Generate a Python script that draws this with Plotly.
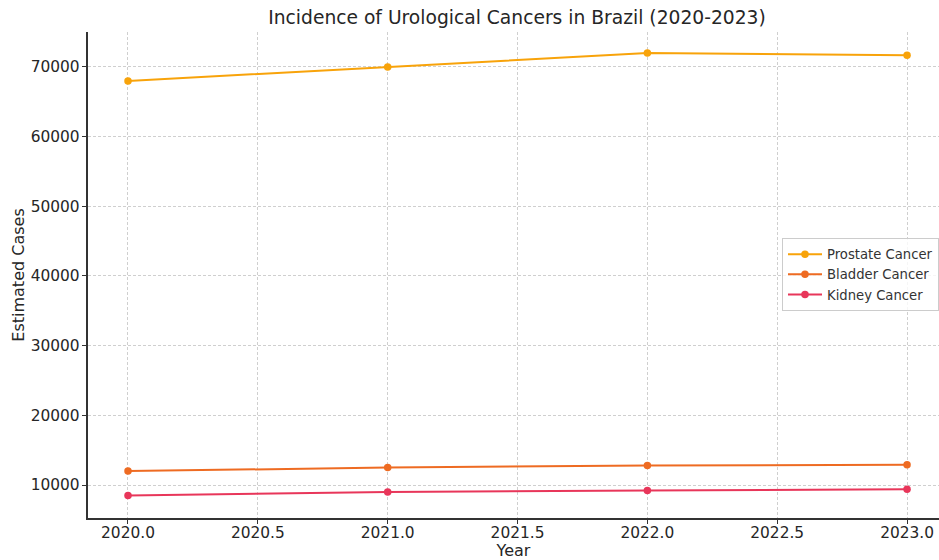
import plotly.graph_objects as go

years = [2020, 2021, 2022, 2023]
prostate = [68000, 70000, 72000, 71700]
bladder = [12000, 12500, 12800, 12900]
kidney = [8500, 9000, 9200, 9400]
series_names = ["Prostate Cancer", "Bladder Cancer", "Kidney Cancer"]
colors = ["#F8A30A", "#EE6B22", "#E8365A"]
x_ticks = [2020.0, 2020.5, 2021.0, 2021.5, 2022.0, 2022.5, 2023.0]
y_ticks = [10000, 20000, 30000, 40000, 50000, 60000, 70000]

fig = go.Figure()
for name, vals, c in zip(series_names, [prostate, bladder, kidney], colors):
    fig.add_trace(go.Scatter(x=years, y=vals, name=name, mode="lines+markers",
                             line=dict(color=c, width=2), marker=dict(color=c, size=7.5)))

font = "DejaVu Sans"
fig.update_layout(
    width=939, height=560,
    margin=dict(l=88, r=0, t=32, b=42),
    paper_bgcolor="white", plot_bgcolor="white",
    font=dict(family=font, color="#262626"),
    title=dict(text="Incidence of Urological Cancers in Brazil (2020-2023)",
               x=517/939, xanchor="center", y=1-17/560, yanchor="middle",
               font=dict(size=18.7, family=font, color="#262626")),
    legend=dict(x=0.8155, y=0.576, xanchor="left", yanchor="top",
                bordercolor="#cccccc", borderwidth=1, bgcolor="rgba(255,255,255,0.8)",
                font=dict(size=13.2, family=font, color="#333333"), tracegroupgap=0, itemwidth=34),
    showlegend=True,
)
common = dict(showgrid=True, gridcolor="#cfcfcf", griddash="3px,2px", gridwidth=0.8,
              showline=True, linecolor="#333333", linewidth=1.5,
              ticks="outside", ticklen=4.5, tickcolor="#333333", tickwidth=1.2,
              tickfont=dict(size=15.4, family=font, color="#262626"), zeroline=False)
fig.update_xaxes(range=[2019.846, 2023.123], tickvals=x_ticks,
                 ticktext=[f"{v:.1f}" for v in x_ticks],
                 ticklabelstandoff=-5,
                 title=dict(text="Year", font=dict(size=16, family=font), standoff=2),
                 **common)
fig.update_yaxes(range=[5265, 75020], tickvals=y_ticks,
                 ticktext=[str(v) for v in y_ticks],
                 ticklabelstandoff=-1,
                 title=dict(text="Estimated Cases", font=dict(size=16, family=font), standoff=2),
                 **common)

fig.write_html("out.html", config={"displayModeBar": False},
               post_script="document.body.style.margin='0';document.body.style.overflow='hidden';")
